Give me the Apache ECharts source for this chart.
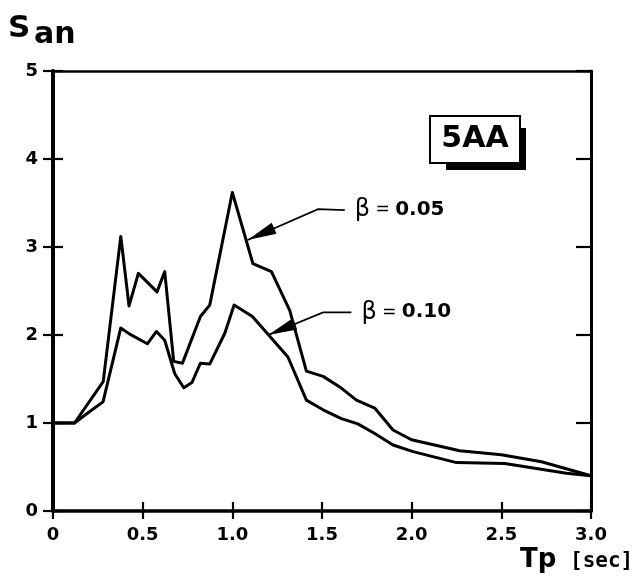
<!DOCTYPE html>
<html>
<head>
<meta charset="utf-8">
<script src="https://cdn.jsdelivr.net/npm/echarts@6/dist/echarts.min.js"></script>
<style>
  html, body { margin: 0; padding: 0; background: #fff; }
  #chart { width: 634px; height: 584px; }
</style>
</head>
<body>
<div id="chart"></div>
<script>
// Normalised spectral acceleration San against pulse period Tp, record 5AA
const period05 = [0, 0.12, 0.28, 0.378, 0.424, 0.476, 0.58, 0.623, 0.673, 0.722, 0.822, 0.874,
  1.0, 1.115, 1.218, 1.32, 1.413, 1.506, 1.599, 1.692, 1.794, 1.896, 1.999, 2.268, 2.5, 2.724, 3.0];
const san05 = [1.0, 1.0, 1.47, 3.12, 2.33, 2.70, 2.49, 2.72, 1.70, 1.68, 2.21, 2.34,
  3.62, 2.81, 2.72, 2.28, 1.59, 1.53, 1.41, 1.26, 1.17, 0.92, 0.81, 0.685, 0.64, 0.56, 0.40];

const period10 = [0, 0.12, 0.205, 0.279, 0.378, 0.428, 0.526, 0.577, 0.623, 0.679, 0.729, 0.775,
  0.822, 0.874, 0.958, 1.01, 1.112, 1.31, 1.413, 1.506, 1.608, 1.70, 1.794, 1.896, 2.008, 2.25,
  2.519, 2.863, 3.0];
const san10 = [1.0, 1.0, 1.13, 1.24, 2.08, 2.01, 1.90, 2.04, 1.94, 1.56, 1.40, 1.46,
  1.68, 1.67, 2.02, 2.34, 2.21, 1.75, 1.26, 1.15, 1.05, 0.99, 0.88, 0.75, 0.675, 0.55,
  0.54, 0.43, 0.40];

const dampingLabels = ['0.05', '0.10'];
const xTicks = { min: 0, max: 3, step: 0.5 };
const yTicks = { min: 0, max: 5, step: 1 };

// Leader lines: label end -> bend -> arrow tip on the curve (data units)
const callouts = [
  { label: dampingLabels[0], path: [[1.627, 3.42], [1.478, 3.43], [1.085, 3.08]] },
  { label: dampingLabels[1], path: [[1.664, 2.258], [1.506, 2.258], [1.2, 2.0]] }
];

const pairs = (xs, ys) => xs.map((x, i) => [x, ys[i]]);

const BOLD = 'DejaVu Sans';
const ink = '#000';

function renderCallout(params, api) {
  const c = callouts[params.dataIndex];
  const pts = c.path.map(p => api.coord(p));
  const tip = pts[pts.length - 1];
  const prev = pts[pts.length - 2];
  const dx = tip[0] - prev[0], dy = tip[1] - prev[1];
  const len = Math.hypot(dx, dy);
  const ux = dx / len, uy = dy / len;
  const headLen = 29, headW = 6;
  const bx = tip[0] - ux * headLen, by = tip[1] - uy * headLen;
  const head = [tip, [bx - uy * headW, by + ux * headW], [bx + uy * headW, by - ux * headW]];
  const start = pts[0];
  return {
    type: 'group',
    children: [
      { type: 'polyline', shape: { points: pts }, style: { stroke: ink, lineWidth: 1.8, fill: null } },
      { type: 'polygon', shape: { points: head }, style: { fill: ink } },
      {
        type: 'text', x: start[0] + 10, y: start[1],
        style: {
          text: '{b|β}{e| = }{v|' + c.label + '}',
          verticalAlign: 'middle', align: 'left',
          rich: {
            b: { fontFamily: 'DejaVu Sans', fontSize: 24, fontWeight: 'normal', fill: ink },
            e: { fontFamily: 'DejaVu Sans', fontSize: 17, fontWeight: 'normal', fill: ink },
            v: { fontFamily: BOLD, fontSize: 20, fontWeight: 'bold', fill: ink }
          }
        }
      }
    ]
  };
}

const chart = echarts.init(document.getElementById('chart'), null, { renderer: 'canvas' });

// Three grids share one plot rectangle: 0 = data + outer ticks, 1 = inner ticks, 2 = frame
const plotRect = { left: 53, right: 43, top: 71, bottom: 73, containLabel: false };

const tickStyle = { color: ink, width: 2.2 };
const plainAxis = (kind, grid, position, opts) => Object.assign({
  type: 'value', gridIndex: grid, position,
  min: kind === 'x' ? xTicks.min : yTicks.min,
  max: kind === 'x' ? xTicks.max : yTicks.max,
  interval: kind === 'x' ? xTicks.step : yTicks.step,
  axisLine: { show: false, onZero: false },
  axisTick: { show: false },
  axisLabel: { show: false },
  splitLine: { show: false }
}, opts);

const option = {
  backgroundColor: '#fff',
  animation: false,
  grid: [plotRect, plotRect, plotRect],
  xAxis: [
    plainAxis('x', 0, 'bottom', {
      axisLine: { show: true, onZero: false, lineStyle: { color: ink, width: 3.5 } },
      axisTick: { show: true, inside: false, length: 8, lineStyle: tickStyle },
      axisLabel: {
        color: ink, fontFamily: BOLD, fontWeight: 'bold', fontSize: 18, margin: 15,
        formatter: v => (v === 0 ? '0' : v.toFixed(1))
      }
    }),
    plainAxis('x', 1, 'bottom', {
      axisTick: { show: true, inside: true, length: 9, lineStyle: tickStyle }
    }),
    plainAxis('x', 2, 'top', {
      axisLine: { show: true, onZero: false, lineStyle: { color: ink, width: 2.5 } }
    })
  ],
  yAxis: [
    plainAxis('y', 0, 'left', {
      axisLine: { show: true, onZero: false, lineStyle: { color: ink, width: 4 } },
      axisTick: { show: true, inside: false, length: 10, lineStyle: tickStyle },
      axisLabel: { color: ink, fontFamily: BOLD, fontWeight: 'bold', fontSize: 18, margin: 15 }
    }),
    plainAxis('y', 1, 'left', {
      axisTick: { show: true, inside: true, length: 10, lineStyle: tickStyle }
    }),
    plainAxis('y', 2, 'right', {
      axisLine: { show: true, onZero: false, lineStyle: { color: ink, width: 3 } },
      axisTick: { show: true, inside: true, length: 15, lineStyle: tickStyle }
    })
  ],
  series: [
    {
      name: 'β = ' + dampingLabels[0], type: 'line', xAxisIndex: 0, yAxisIndex: 0,
      data: pairs(period05, san05), showSymbol: false, smooth: false,
      lineStyle: { color: ink, width: 3, join: 'round' }
    },
    {
      name: 'β = ' + dampingLabels[1], type: 'line', xAxisIndex: 0, yAxisIndex: 0,
      data: pairs(period10, san10), showSymbol: false, smooth: false,
      lineStyle: { color: ink, width: 3, join: 'round' }
    },
    {
      type: 'custom', xAxisIndex: 0, yAxisIndex: 0, clip: false,
      data: callouts.map(c => c.path[0]),
      renderItem: renderCallout, silent: true, z: 5
    }
  ],
  graphic: [
    // axis titles
    { type: 'text', left: 8, top: 13, style: { text: 'S', font: 'bold 31px "DejaVu Sans"', fill: ink } },
    { type: 'text', left: 34, top: 20, style: { text: 'an', font: 'bold 30px "DejaVu Sans"', fill: ink } },
    { type: 'text', left: 520, top: 547, style: { text: 'Tp', font: 'bold 26px "DejaVu Sans"', fill: ink } },
    { type: 'text', left: 570, top: 551, style: { text: '[sec]', font: 'bold 21px "DejaVu Sans Mono"', fill: ink } },
    // record tag with drop shadow
    { type: 'rect', shape: { x: 446, y: 128, width: 80, height: 42 }, style: { fill: ink }, z: 10 },
    { type: 'rect', shape: { x: 430, y: 116, width: 90, height: 47 }, style: { fill: '#fff', stroke: ink, lineWidth: 2 }, z: 11 },
    {
      type: 'text', z: 12, x: 475, y: 139,
      style: { text: '5AA', font: 'bold 30px "DejaVu Sans"', fill: ink, align: 'center', verticalAlign: 'middle' }
    }
  ]
};

chart.setOption(option);
</script>
</body>
</html>
